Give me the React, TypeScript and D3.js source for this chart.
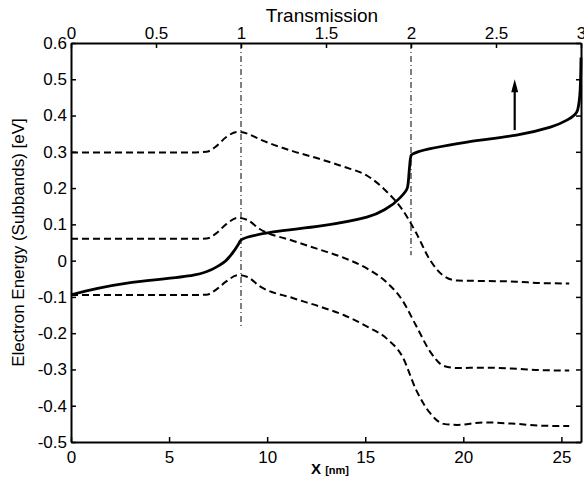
import React, { useRef, useEffect } from "react";
import * as d3 from "d3";

// subband energies along the device (X in nm)
const xNm = [0, 2, 4, 6, 6.9, 7.4, 7.9, 8.5, 9.0, 9.6, 11.3, 12.7, 13.9, 15.1, 16.1, 16.9, 17.6, 18.3, 19.0, 19.7, 21, 22.7, 24, 25.4];
const subbandTop = [0.298, 0.298, 0.298, 0.298, 0.3, 0.315, 0.34, 0.355, 0.35, 0.335, 0.302, 0.28, 0.259, 0.234, 0.19, 0.14, 0.076, 0.002, -0.042, -0.055, -0.056, -0.058, -0.062, -0.063];
const subbandMid = [0.06, 0.06, 0.06, 0.06, 0.061, 0.075, 0.1, 0.118, 0.112, 0.088, 0.055, 0.03, 0.008, -0.022, -0.06, -0.11, -0.18, -0.25, -0.29, -0.296, -0.295, -0.298, -0.302, -0.303];
const subbandLow = [-0.095, -0.095, -0.095, -0.095, -0.094, -0.08, -0.058, -0.04, -0.045, -0.07, -0.103, -0.127, -0.15, -0.182, -0.215, -0.265, -0.357, -0.42, -0.45, -0.453, -0.446, -0.45, -0.455, -0.456];

// transmission (top axis) vs energy
const transT = [0, 0.33, 0.72, 0.876, 0.95, 0.985, 1.0, 1.19, 1.46, 1.74, 1.86, 1.935, 1.98, 1.99, 2.0, 2.04, 2.33, 2.62, 2.82, 2.92, 2.98, 2.995, 3.0];
const transE = [-0.094, -0.062, -0.04, -0.012, 0.021, 0.045, 0.057, 0.079, 0.095, 0.12, 0.145, 0.173, 0.203, 0.25, 0.29, 0.3, 0.327, 0.346, 0.368, 0.388, 0.415, 0.47, 0.56];

// vertical reference lines at T = 1 and T = 2
const refT = [1, 2];
const refBottomE = [-0.185, 0.015];

// arrow
const arrowT = 2.61;
const arrowE = [0.36, 0.5];

const xTicks = [0, 5, 10, 15, 20, 25];
const tTicks = [0, 0.5, 1, 1.5, 2, 2.5, 3];
const yTicks = [-0.5, -0.4, -0.3, -0.2, -0.1, 0, 0.1, 0.2, 0.3, 0.4, 0.5, 0.6];

const FONT = "'Liberation Sans', Arial, Helvetica, sans-serif";

const App = () => {
  const ref = useRef(null);

  useEffect(() => {
    const svg = d3.select(ref.current);
    svg.selectAll("*").remove();

    const W = 584;
    const H = 482;
    const margin = { top: 43, right: 3, bottom: 40, left: 71 };
    const width = W - margin.left - margin.right;
    const height = H - margin.top - margin.bottom;

    svg.attr("width", W).attr("height", H);

    const g = svg
      .append("g")
      .attr("transform", `translate(${margin.left},${margin.top})`);

    const x = d3.scaleLinear().domain([0, 26]).range([0, width]);
    const t = d3.scaleLinear().domain([0, 3]).range([0, width]);
    const y = d3.scaleLinear().domain([-0.5, 0.6]).range([height, 0]);

    const styleAxis = (sel) => {
      sel.select(".domain").attr("stroke", "#000").attr("stroke-width", 2);
      sel.selectAll(".tick line").attr("stroke", "#000").attr("stroke-width", 1.5);
      sel
        .selectAll(".tick text")
        .attr("fill", "#000")
        .style("font-family", FONT)
        .style("font-size", "17px");
    };

    g.append("g")
      .attr("transform", `translate(0,${height})`)
      .call(
        d3.axisBottom(x).tickValues(xTicks).tickSize(-5).tickSizeOuter(0).tickPadding(9).tickFormat((d) => String(d))
      )
      .call(styleAxis);
    g.append("g")
      .call(
        d3.axisTop(t).tickValues(tTicks).tickSize(-5).tickSizeOuter(0).tickPadding(4).tickFormat((d) => String(d))
      )
      .call(styleAxis);
    g.append("g")
      .call(
        d3.axisLeft(y).tickValues(yTicks).tickSize(-5).tickSizeOuter(0).tickPadding(4).tickFormat((d) => String(d))
      )
      .call(styleAxis);
    g.append("g")
      .attr("transform", `translate(${width},0)`)
      .call(d3.axisRight(y).tickValues(yTicks).tickSize(-5).tickSizeOuter(0).tickFormat(() => ""))
      .call(styleAxis);

    // reference lines
    refT.forEach((v, i) => {
      g.append("line")
        .attr("x1", t(v))
        .attr("x2", t(v))
        .attr("y1", y(0.6))
        .attr("y2", y(refBottomE[i]))
        .attr("stroke", "#000")
        .attr("stroke-width", 1)
        .attr("stroke-dasharray", "6,3,1,3");
    });

    // subbands
    const band = d3
      .line()
      .x((d) => x(d[0]))
      .y((d) => y(d[1]))
      .curve(d3.curveMonotoneX);
    [subbandTop, subbandMid, subbandLow].forEach((s) => {
      g.append("path")
        .attr("d", band(xNm.map((v, i) => [v, s[i]])))
        .attr("fill", "none")
        .attr("stroke", "#000")
        .attr("stroke-width", 2)
        .attr("stroke-dasharray", "7,4");
    });

    // transmission
    const trans = d3
      .line()
      .x((d) => t(d[0]))
      .y((d) => y(d[1]))
      .curve(d3.curveMonotoneY);
    g.append("path")
      .attr("d", trans(transT.map((v, i) => [v, transE[i]])))
      .attr("fill", "none")
      .attr("stroke", "#000")
      .attr("stroke-width", 2.8)
      .attr("stroke-linejoin", "round");

    // arrow
    const ax = t(arrowT);
    const tipY = y(arrowE[1]);
    g.append("line")
      .attr("x1", ax)
      .attr("x2", ax)
      .attr("y1", y(arrowE[0]))
      .attr("y2", tipY + 10)
      .attr("stroke", "#000")
      .attr("stroke-width", 2.2);
    g.append("path")
      .attr("d", `M${ax},${tipY} L${ax - 3.5},${tipY + 13} L${ax + 3.5},${tipY + 13} Z`)
      .attr("fill", "#000");

    // labels
    svg
      .append("text")
      .attr("x", margin.left + width / 2 - 4)
      .attr("y", 22)
      .attr("text-anchor", "middle")
      .style("font-family", FONT)
      .style("font-size", "19px")
      .text("Transmission");

    svg
      .append("text")
      .attr("transform", `translate(24,${margin.top + height / 2}) rotate(-90)`)
      .attr("text-anchor", "middle")
      .style("font-family", FONT)
      .style("font-size", "17px")
      .text("Electron Energy (Subbands) [eV]");

    const xl = svg
      .append("text")
      .attr("x", margin.left + width / 2 + 4)
      .attr("y", 474)
      .attr("text-anchor", "middle")
      .style("font-family", FONT)
      .style("font-weight", "bold");
    xl.append("tspan").style("font-size", "15px").text("X ");
    xl.append("tspan").style("font-size", "11px").text("[nm]");

    return () => {
      svg.selectAll("*").remove();
    };
  }, []);

  return (
    <svg
      ref={ref}
      style={{ position: "absolute", left: 0, top: 0, display: "block", background: "#fff" }}
    />
  );
};

export default App;
